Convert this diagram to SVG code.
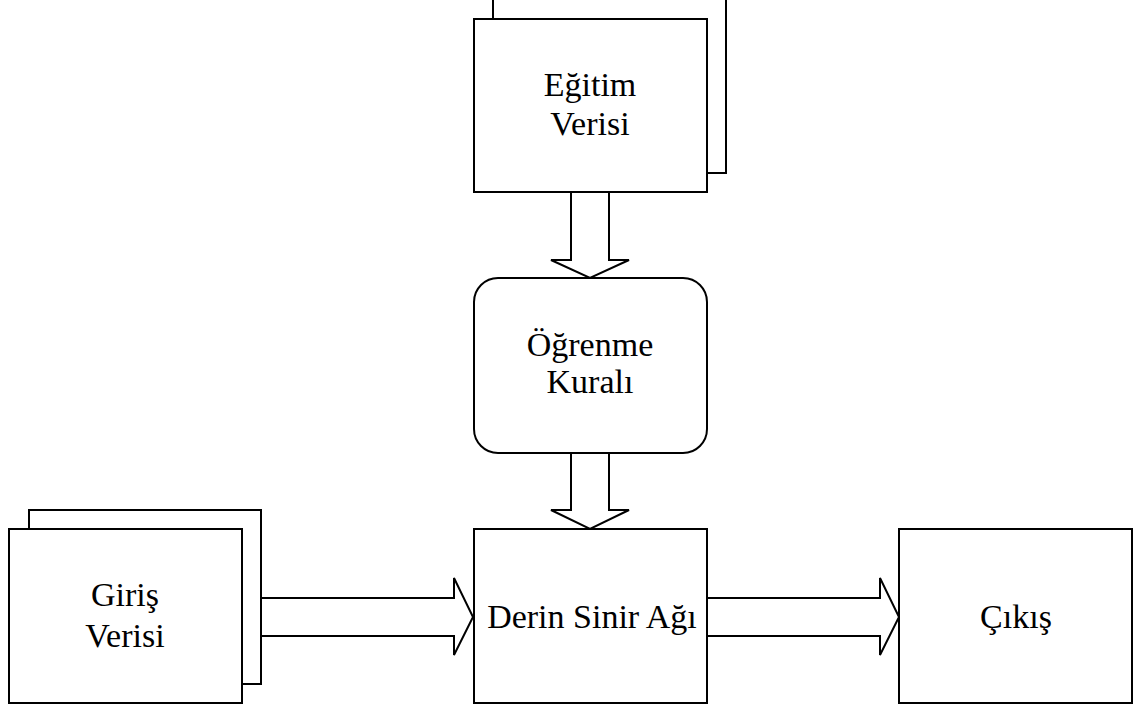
<svg xmlns="http://www.w3.org/2000/svg" width="1140" height="709" viewBox="0 0 1140 709">
  <style>
    .box { fill: #ffffff; stroke: #000000; stroke-width: 2; }
    .arrow { fill: #ffffff; stroke: #000000; stroke-width: 2; stroke-linejoin: miter; }
    .label { font-family: "Liberation Serif", "Times New Roman", serif; font-size: 34px; fill: #000000; text-anchor: middle; }
  </style>
  <rect width="1140" height="709" fill="#ffffff"/>

  <g id="connectors">
    <!-- training data down to learning rule -->
    <path class="arrow" d="M571,192 V260 H551 L590,278 L629,260 H609 V192"/>
    <!-- learning rule down to network -->
    <path class="arrow" d="M571,453 V510 H551 L590,529 L629,510 H609 V453"/>
    <!-- input data right to network -->
    <path class="arrow" d="M242,598 H454 V578 L473,617 L454,655 V636 H242"/>
    <!-- network right to output -->
    <path class="arrow" d="M707,598 H880 V578 L899,617 L880,655 V636 H707"/>
  </g>

  <g id="egitim-verisi">
    <rect class="box" x="493" y="-2" width="233" height="175"/>
    <rect class="box" x="474" y="19" width="233" height="173"/>
    <text class="label" x="590" y="96">Eğitim</text>
    <text class="label" x="590" y="135">Verisi</text>
  </g>

  <g id="ogrenme-kurali">
    <rect class="box" x="474" y="278" width="233" height="175" rx="24" ry="24"/>
    <text class="label" x="590" y="356">Öğrenme</text>
    <text class="label" x="590" y="393">Kuralı</text>
  </g>

  <g id="giris-verisi">
    <rect class="box" x="29" y="510" width="232" height="174"/>
    <rect class="box" x="9" y="529" width="233" height="174"/>
    <text class="label" x="125" y="606">Giriş</text>
    <text class="label" x="125" y="647">Verisi</text>
  </g>

  <g id="derin-sinir-agi">
    <rect class="box" x="474" y="529" width="233" height="174"/>
    <text class="label" x="592" y="628">Derin Sinir Ağı</text>
  </g>

  <g id="cikis">
    <rect class="box" x="899" y="529" width="233" height="174"/>
    <text class="label" x="1016" y="628">Çıkış</text>
  </g>
</svg>
